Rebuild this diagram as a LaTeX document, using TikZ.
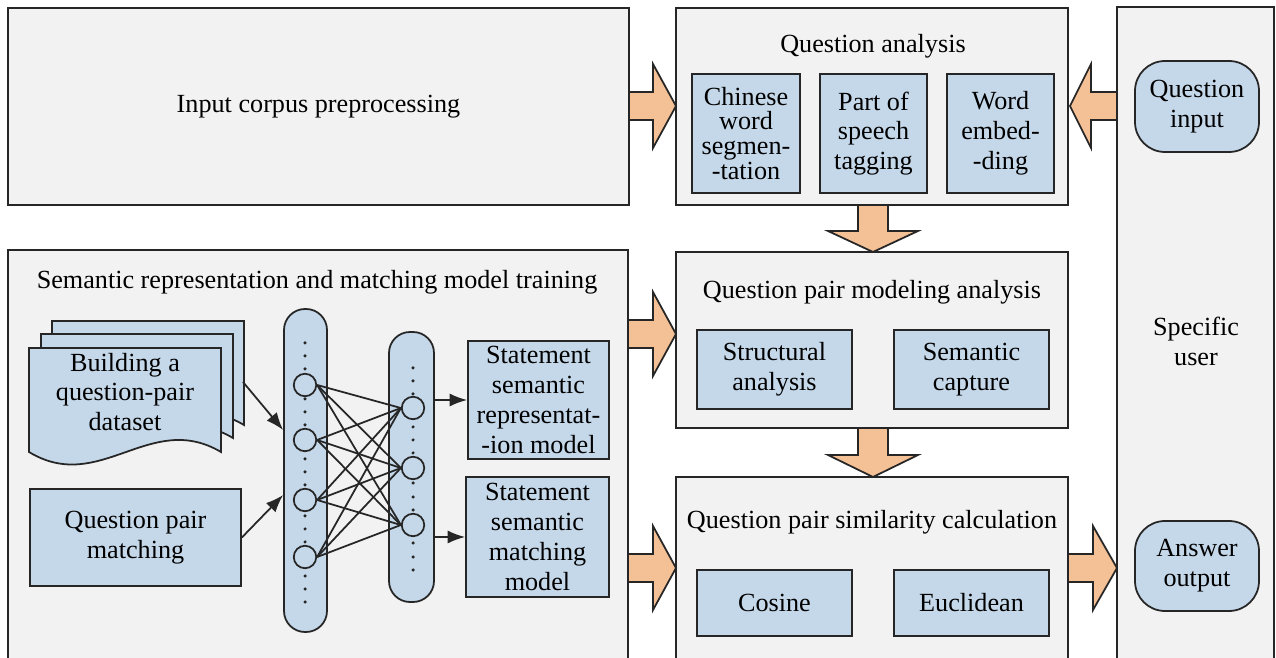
\documentclass[tikz,border=0pt]{standalone}
\usepackage{fontspec}
\setmainfont{Liberation Serif}
\usetikzlibrary{fit,arrows.meta}
\definecolor{panelgray}{HTML}{F2F2F2}
\definecolor{boxblue}{HTML}{C5D8EA}
\definecolor{arroworange}{HTML}{F4C095}
\definecolor{edgegray}{HTML}{262626}
% wide arrows between the panels: from, to, centre, head length (signed)
\newcommand{\harrow}[4]{\draw[blockarrow] (#1,#3-14) -- ({#2-(#4)},#3-14) -- ({#2-(#4)},#3-42) -- (#2,#3) -- ({#2-(#4)},#3+42) -- ({#2-(#4)},#3+14) -- (#1,#3+14) -- cycle;}
\newcommand{\varrow}[4]{\draw[blockarrow] (#3-15,#1) -- (#3-15,#2-#4) -- (#3-45,#2-#4) -- (#3,#2) -- (#3+45,#2-#4) -- (#3+15,#2-#4) -- (#3+15,#1) -- cycle;}
% one sheet of the stacked document
\newcommand{\docsheet}[2]{\draw[sheet, shift={(#1,#2)}] (29,348) -- (221,348) -- (221,452) .. controls (150,410) and (100,495) .. (29,452) -- cycle;}
\begin{document}
\begin{tikzpicture}[x=0.02cm,y=-0.02cm,
    every node/.style={font=\fontsize{14.9}{17}\selectfont, align=center},
    panel/.style={rectangle, draw=edgegray, fill=panelgray, line width=1pt, inner sep=0pt},
    subbox/.style={rectangle, draw=edgegray, fill=boxblue, line width=1pt, inner sep=0pt},
    userbox/.style={subbox, rounded corners=0.6cm},
    layer/.style={subbox, rounded corners=0.42cm},
    neuron/.style={circle, draw=edgegray, fill=boxblue, line width=1pt, minimum size=0.45cm, inner sep=0pt},
    sheet/.style={draw=edgegray, fill=boxblue, line width=1pt, line join=miter},
    blockarrow/.style={draw=edgegray, fill=arroworange, line width=1pt, line join=miter},
    link/.style={draw=edgegray, line width=1pt},
    flow/.style={link, -{Latex[length=10pt,width=7.5pt]}},
    tight/.style={font=\fontsize{14.9}{14.2}\selectfont}]
    \useasboundingbox (0,0) rectangle (1276,658);
    % panels
    \node[panel, fit={(8,8) (629,205)}, label=center:{Input corpus preprocessing}] (corpus) {};
    \node[panel, fit={(676,8) (1068,205)}] (qa) {};
    \node[panel, fit={(1117,7) (1274,664)}] (user) {};
    \node[panel, fit={(8,250) (628,664)}] (training) {};
    \node[panel, fit={(676,252) (1068,428)}] (qpm) {};
    \node[panel, fit={(676,477) (1068,664)}] (simil) {};
    \node (qatitle) at (873,46) {Question analysis};
    \node (traintitle) at (317,282) {Semantic representation and matching model training};
    \node (qpmtitle) at (872,292) {Question pair modeling analysis};
    \node (similtitle) at (872,522) {Question pair similarity calculation};
    \node (usertitle) at (1196,341) {Specific\\user};
    % question analysis steps
    \node[subbox, fit={(692,74) (800,193)}, label={[tight]center:{Chinese\\word\\segmen-\\-tation}}] (segment) {};
    \node[subbox, fit={(820,74) (927,193)}, label=center:{Part of\\speech\\tagging}] (postag) {};
    \node[subbox, fit={(947,74) (1054,193)}, label=center:{Word\\embed-\\-ding}] (embed) {};
    \node[subbox, fit={(697,330) (852,409)}, label=center:{Structural\\analysis}] (struct) {};
    \node[subbox, fit={(894,330) (1049,409)}, label=center:{Semantic\\capture}] (capture) {};
    \node[subbox, fit={(697,570) (852,636)}, label=center:{Cosine}] (cosine) {};
    \node[subbox, fit={(894,570) (1049,636)}, label=center:{Euclidean}] (euclid) {};
    \node[userbox, fit={(1135,61) (1259,152)}, label=center:{Question\\input}] (qinput) {};
    \node[userbox, fit={(1135,521) (1259,611)}, label=center:{Answer\\output}] (aoutput) {};
    % training part
    \docsheet{23}{-27}
    \docsheet{12}{-14}
    \docsheet{0}{0}
    \node (dataset) at (125,392) {Building a\\question-pair\\dataset};
    \coordinate (docsout) at (243,382);
    \node[subbox, fit={(30,489) (241,586)}, label=center:{Question pair\\matching}] (pairmatch) {};
    \node[layer, fit={(284,309) (327,632)}] (layer1) {};
    \node[layer, fit={(389,332) (434,602)}] (layer2) {};
    \foreach \y [count=\i] in {385,440,500,557}
        \node[neuron] (a\i) at (305,\y) {};
    \foreach \y [count=\j] in {408,468,525}
        \node[neuron] (b\j) at (413,\y) {};
    \foreach \y in {343,356,369,399,412,425,459,472,485,516,529,542,576,589,602}
        \fill[edgegray] (305,\y) circle (0.035cm);
    \foreach \y in {368,381,394,427,440,453,483,497,510,543,557,570}
        \fill[edgegray] (413,\y) circle (0.035cm);
    \foreach \i in {1,...,4}
        \foreach \j in {1,2,3}
            \draw[link] (a\i.east) -- (b\j.west);
    \node[subbox, fit={(468,341) (609,459)}, label=center:{Statement\\semantic\\representat-\\-ion model}] (reprmodel) {};
    \node[subbox, fit={(466,477) (609,597)}, label=center:{Statement\\semantic\\matching\\model}] (matchmodel) {};
    \draw[flow] (docsout) -- (layer1.west |- 0,430);
    \draw[flow] (pairmatch.east) -- (layer1.west |- 0,495);
    \draw[flow] (layer2.east |- reprmodel) -- (reprmodel);
    \draw[flow] (layer2.east |- matchmodel) -- (matchmodel);
    % wide arrows
    \harrow{629}{676}{106}{23}
    \harrow{1117}{1070}{106}{-21}
    \harrow{628}{676}{334}{23}
    \harrow{628}{676}{568}{23}
    \harrow{1068}{1117}{568}{24}
    \varrow{205}{252}{873}{21}
    \varrow{428}{477}{873}{22}
\end{tikzpicture}
\end{document}
